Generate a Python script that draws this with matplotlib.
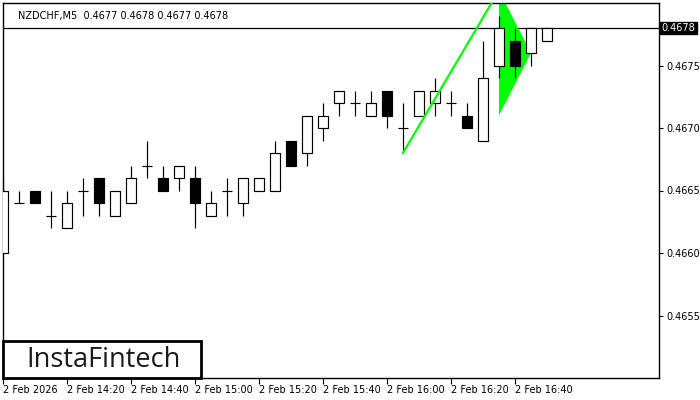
import matplotlib
matplotlib.use("Agg")
import matplotlib.pyplot as plt
from matplotlib.patches import Rectangle, Polygon
from matplotlib.transforms import blended_transform_factory

# ---- data ----
opens = [0.4660, 0.4664, 0.4665, 0.4663, 0.4662, 0.4665, 0.4666, 0.4663, 0.4664, 0.4667,
         0.4666, 0.4666, 0.4666, 0.4663, 0.4665, 0.4664, 0.4665, 0.4665, 0.4669, 0.4668,
         0.4670, 0.4672, 0.4672, 0.4671, 0.4673, 0.4670, 0.4671, 0.4672, 0.4672, 0.4671,
         0.4669, 0.4675, 0.4677, 0.4676, 0.4677]
highs = [0.4666, 0.4665, 0.4665, 0.4665, 0.4665, 0.4666, 0.4666, 0.4665, 0.4667, 0.4669,
         0.4667, 0.4667, 0.4667, 0.4665, 0.4666, 0.4666, 0.4666, 0.4669, 0.4669, 0.4671,
         0.4672, 0.4673, 0.4673, 0.4673, 0.4673, 0.4672, 0.4673, 0.4674, 0.4673, 0.4672,
         0.4677, 0.4679, 0.4678, 0.4678, 0.4678]
lows = [0.4660, 0.4664, 0.4664, 0.4662, 0.4662, 0.4663, 0.4663, 0.4663, 0.4664, 0.4666,
        0.4665, 0.4665, 0.4662, 0.4663, 0.4663, 0.4663, 0.4665, 0.4665, 0.4667, 0.4667,
        0.4669, 0.4671, 0.4671, 0.4671, 0.4670, 0.4668, 0.4671, 0.4671, 0.4671, 0.4670,
        0.4669, 0.4674, 0.4674, 0.4675, 0.4677]
closes = [0.4665, 0.4664, 0.4664, 0.4663, 0.4664, 0.4665, 0.4664, 0.4665, 0.4666, 0.4667,
          0.4665, 0.4667, 0.4664, 0.4664, 0.4665, 0.4666, 0.4666, 0.4668, 0.4667, 0.4671,
          0.4671, 0.4673, 0.4672, 0.4672, 0.4671, 0.4670, 0.4673, 0.4673, 0.4672, 0.4670,
          0.4674, 0.4678, 0.4675, 0.4678, 0.4678]

time_tick_pos = [0, 4, 8, 12, 16, 20, 24, 28, 32]
time_labels = ["2 Feb 2026", "2 Feb 14:20", "2 Feb 14:40", "2 Feb 15:00", "2 Feb 15:20",
               "2 Feb 15:40", "2 Feb 16:00", "2 Feb 16:20", "2 Feb 16:40"]
price_ticks = [0.4655, 0.4660, 0.4665, 0.4670, 0.4675]
current_price = 0.4678
title_text = "NZDCHF,M5  0.4677 0.4678 0.4677 0.4678"

# flagpole and pennant (bar index, price)
pole_x = [25, 31]
pole_y = [0.4668, 0.4681]
pennant_x = [31, 33, 31]
pennant_y = [0.4681, 0.4676, 0.4671]

# ---- figure ----
fig = plt.figure(figsize=(7, 4), dpi=100)
ax = fig.add_axes([3 / 700, 22 / 400, 656 / 700, 375 / 400])
ax.set_xlim(0, 41)
ax.set_ylim(0.46500, 0.46800)

bw = 0.62
lw = 0.85
for i, (o, h, l, c) in enumerate(zip(opens, highs, lows, closes)):
    ax.plot([i, i], [l, h], color="black", lw=lw, zorder=2, solid_capstyle="butt")
    if o == c:
        ax.plot([i - bw / 2, i + bw / 2], [o, o], color="black", lw=lw, zorder=3,
                solid_capstyle="butt")
    else:
        fc = "white" if c > o else "black"
        ax.add_patch(Rectangle((i - bw / 2, min(o, c)), bw, abs(c - o), facecolor=fc,
                               edgecolor="black", lw=lw, zorder=3))

# pattern (pennant behind candles, pole on top)
ax.add_patch(Polygon(list(zip(pennant_x, pennant_y)), closed=True, facecolor="#00ff00",
                     edgecolor="none", zorder=1.5))
ax.plot(pole_x, pole_y, color="#00ff00", lw=1.6, zorder=4)

# current price line
ax.axhline(current_price, color="black", lw=0.9, zorder=1)

# axes styling
for s in ax.spines.values():
    s.set_color("black")
    s.set_linewidth(1.0)
ax.yaxis.tick_right()
ax.set_yticks(price_ticks)
ax.set_yticklabels([f"{p:.4f}" for p in price_ticks])
ax.tick_params(axis="y", direction="out", length=3, width=0.8, labelsize=7, pad=2,
               colors="black")
ax.set_xticks(time_tick_pos)
ax.set_xticklabels(time_labels)
ax.tick_params(axis="x", direction="out", length=4, width=0.8, labelsize=7, pad=1,
               colors="black")
for lab in ax.get_xticklabels():
    lab.set_ha("left")

# current price label
trans = blended_transform_factory(ax.transAxes, ax.transData)
ax.text(1.004, current_price, f"{current_price:.4f}", transform=trans, fontsize=7,
        color="white", va="center", ha="left",
        bbox=dict(boxstyle="square,pad=0.15", facecolor="black", edgecolor="black"))

# title
ax.text(0.023, 0.978, title_text, transform=ax.transAxes, fontsize=7, va="top",
        ha="left", color="black")

# logo
ax.add_patch(Rectangle((0, 0), 198 / 656, 37 / 375, transform=ax.transAxes,
                       facecolor="white", edgecolor="black", lw=2.0, zorder=6,
                       clip_on=False))
ax.text(101 / 656, 18 / 375, "InstaFintech", transform=ax.transAxes, fontsize=19.5,
        family="Open Sans", fontweight="medium", color="#1a1a1a", ha="center",
        va="center", zorder=7)

fig.savefig("out.png", dpi=100)
